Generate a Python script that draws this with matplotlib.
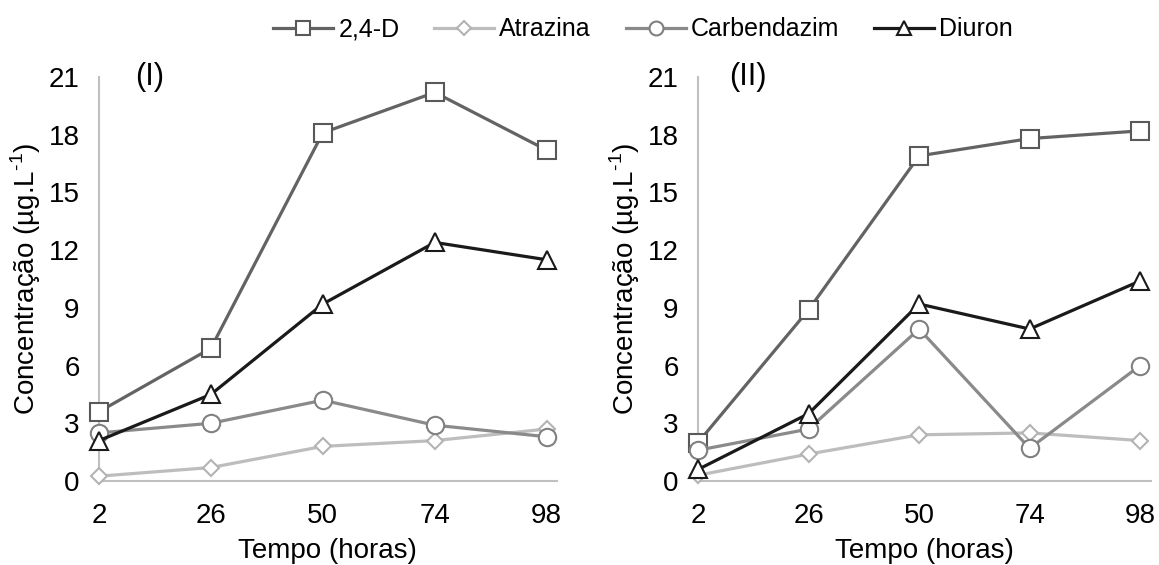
import matplotlib
matplotlib.use("Agg")
import matplotlib.pyplot as plt
from matplotlib.lines import Line2D

plt.rcParams['font.family'] = ['Liberation Sans', 'DejaVu Sans']
plt.rcParams['mathtext.fontset'] = 'custom'
plt.rcParams['mathtext.rm'] = 'Liberation Sans'

times = ["2", "26", "50", "74", "98"]
series_names = ["2,4-D", "Atrazina", "Carbendazim", "Diuron"]

# Panel (I)
p1_24d = [3.6, 6.9, 18.1, 20.2, 17.2]
p1_atrazina = [0.25, 0.7, 1.8, 2.1, 2.7]
p1_carbendazim = [2.5, 3.0, 4.2, 2.9, 2.3]
p1_diuron = [2.1, 4.5, 9.2, 12.4, 11.5]

# Panel (II)
p2_24d = [2.0, 8.9, 16.9, 17.8, 18.2]
p2_atrazina = [0.3, 1.4, 2.4, 2.5, 2.1]
p2_carbendazim = [1.6, 2.7, 7.9, 1.7, 6.0]
p2_diuron = [0.6, 3.5, 9.2, 7.9, 10.4]

yticks = [0, 3, 6, 9, 12, 15, 18, 21]

styles = {
    "2,4-D": dict(color="#636363", marker="s", ms=12.5, mec="#595959"),
    "Atrazina": dict(color="#bdbdbd", marker="D", ms=8.5, mec="#b3b3b3"),
    "Carbendazim": dict(color="#8a8a8a", marker="o", ms=12.5, mec="#808080"),
    "Diuron": dict(color="#1a1a1a", marker="^", ms=12.5, mec="#1a1a1a"),
}

fig = plt.figure(figsize=(11.59, 5.65), dpi=100)
ax1 = fig.add_axes([0.0854, 0.1487, 0.395, 0.715])
ax2 = fig.add_axes([0.6023, 0.1487, 0.391, 0.715])

panels = [
    (ax1, [p1_24d, p1_atrazina, p1_carbendazim, p1_diuron], "(I)", 4.09),
    (ax2, [p2_24d, p2_atrazina, p2_carbendazim, p2_diuron], "(II)", 4.1),
]

xs = list(range(len(times)))
for ax, data, tag, xmax in panels:
    for name, vals in zip(series_names, data):
        st = styles[name]
        ax.plot(xs, vals, color=st["color"], lw=2.3, marker=st["marker"],
                ms=st["ms"], mfc="white", mec=st["mec"], mew=1.5, clip_on=False,
                zorder=3)
    ax.set_xlim(0, xmax)
    ax.set_ylim(0, 21)
    ax.set_yticks(yticks)
    ax.set_xticks(xs)
    ax.set_xticklabels(times)
    for s in ["top", "right"]:
        ax.spines[s].set_visible(False)
    for s in ["left", "bottom"]:
        ax.spines[s].set_color("#c0c0c0")
        ax.spines[s].set_linewidth(1.5)
    ax.tick_params(length=0, labelsize=20)
    ax.tick_params(axis="x", pad=16)
    ax.tick_params(axis="y", pad=14)
    ax.set_xlabel("Tempo (horas)", fontsize=20, labelpad=6)
    ax.set_ylabel("Concentração (µg.L$^{\\text{-1}}$)", fontsize=20, labelpad=4)
    ax.text(0.45, 21, tag, fontsize=22, va="center", ha="center")

handles = []
for name in series_names:
    st = styles[name]
    handles.append(Line2D([0], [0], color=st["color"], lw=2.3, marker=st["marker"],
                          ms=st["ms"] * 0.8, mfc="white", mec=st["mec"], mew=1.5))
fig.legend(handles, series_names, loc="center", bbox_to_anchor=(0.555, 0.948),
           ncol=4, frameon=False, fontsize=18, handlelength=2.4,
           columnspacing=1.4, handletextpad=0.2)

fig.savefig("out.png", dpi=100)
